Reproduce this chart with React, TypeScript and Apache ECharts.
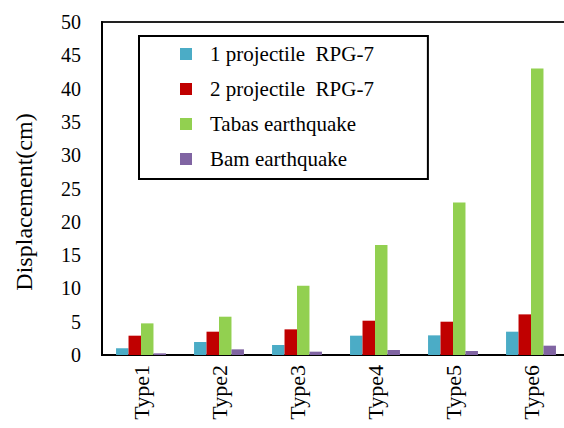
import React, { useEffect, useRef } from "react";
import * as echarts from "echarts";

const categories = ["Type1", "Type2", "Type3", "Type4", "Type5", "Type6"];
const seriesNames = ["1 projectile  RPG-7", "2 projectile  RPG-7", "Tabas earthquake", "Bam earthquake"];
const proj1 = [1.0, 1.95, 1.5, 2.9, 2.95, 3.5];
const proj2 = [2.9, 3.5, 3.85, 5.15, 5.0, 6.1];
const tabas = [4.75, 5.75, 10.4, 16.5, 22.9, 43.0];
const bam = [0.25, 0.85, 0.5, 0.75, 0.6, 1.4];
const colors = ["#4BACC6", "#C00000", "#92D050", "#8064A2"];
const yTicks = { min: 0, max: 50, interval: 5 };

const FONT = "Liberation Serif";

export default function App() {
  const ref = useRef<HTMLDivElement>(null);
  useEffect(() => {
    document.body.style.margin = "0";
    if (!ref.current) return;
    const chart = echarts.init(ref.current, undefined, { renderer: "svg" });
    const data = [proj1, proj2, tabas, bam];
    chart.setOption({
      animation: false,
      backgroundColor: "#ffffff",
      textStyle: { fontFamily: FONT },
      grid: {
        left: 102,
        top: 22,
        right: -6,
        bottom: 73,
        outerBoundsMode: "none",
        containLabel: false,
        show: true,
        borderColor: "#222",
        borderWidth: 2,
      },
      legend: {
        orient: "vertical",
        left: 139,
        top: 36,
        padding: [7.5, 54, 9.5, 41],
        itemWidth: 12,
        itemHeight: 12,
        itemGap: 14,
        borderColor: "#000",
        borderWidth: 2,
        icon: "rect",
        textStyle: {
          fontFamily: FONT,
          fontSize: 21,
          color: "#000",
          padding: [0, 0, 0, 13],
        },
        data: seriesNames,
      },
      xAxis: {
        type: "category",
        data: categories,
        axisLine: { show: true, lineStyle: { color: "#000", width: 2 } },
        axisTick: { show: false },
        axisLabel: {
          rotate: 90,
          margin: 10,
          fontFamily: FONT,
          fontSize: 22,
          color: "#000",
        },
      },
      yAxis: {
        type: "value",
        min: yTicks.min,
        max: yTicks.max,
        interval: yTicks.interval,
        splitLine: { show: false },
        axisLine: { show: true, lineStyle: { color: "#000", width: 2 } },
        axisTick: { show: false },
        axisLabel: { margin: 21, fontFamily: FONT, fontSize: 20, color: "#000" },
      },
      graphic: [
        {
          type: "text",
          x: 24,
          y: 202,
          rotation: Math.PI / 2,
          style: {
            text: "Displacement(cm)",
            fontFamily: FONT,
            fontSize: 24,
            fill: "#000",
            align: "center",
            verticalAlign: "middle",
          },
        },
      ],
      series: seriesNames.map((name, i) => ({
        name,
        type: "bar",
        data: data[i],
        barGap: "0%",
        barCategoryGap: "36%",
        itemStyle: { color: colors[i] },
      })),
    });
    return () => chart.dispose();
  }, []);
  return <div ref={ref} style={{ width: 564, height: 428 }} />;
}
